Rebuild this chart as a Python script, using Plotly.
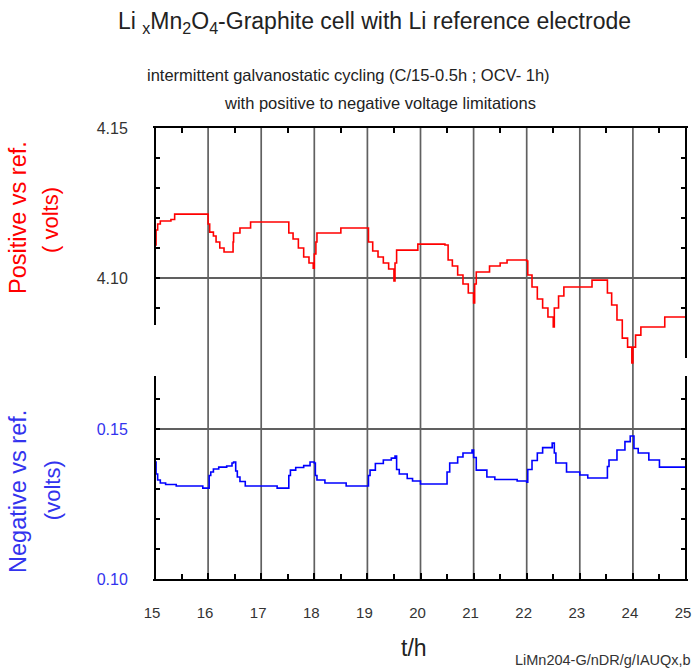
import plotly.graph_objects as go

# ---- data ----
pos_t = [15.00, 15.02, 15.05, 15.10, 15.20, 15.30, 15.37, 15.50, 15.98,
         16.00, 16.03, 16.10, 16.15, 16.22, 16.30, 16.45, 16.47, 16.48, 16.60, 16.75, 16.80, 17.00, 17.50,
         17.52, 17.60, 17.70, 17.80, 17.90, 17.98, 18.00, 18.03, 18.05, 18.40, 18.50, 19.00,
         19.02, 19.10, 19.20, 19.30, 19.40, 19.50, 19.52, 19.55, 19.90, 19.95, 20.46,
         20.52, 20.60, 20.70, 20.80, 20.90, 21.00, 21.02, 21.05, 21.30, 21.50, 21.63, 22.00,
         22.02, 22.10, 22.20, 22.30, 22.40, 22.50, 22.52, 22.60, 22.70, 23.14, 23.23, 23.50,
         23.52, 23.60, 23.70, 23.80, 23.90, 23.98, 24.00, 24.05, 24.15, 24.55, 24.60, 25.00, 25.02]
pos_v = [4.1110, 4.1160, 4.1180, 4.1190, 4.1190, 4.1195, 4.1213, 4.1213, 4.1213,
         4.1180, 4.1153, 4.1140, 4.1120, 4.1100, 4.1087, 4.1087, 4.1120, 4.1150, 4.1167, 4.1167, 4.1187, 4.1187, 4.1187,
         4.1150, 4.1130, 4.1100, 4.1070, 4.1050, 4.1033, 4.1080, 4.1120, 4.1150, 4.1150, 4.1167, 4.1167,
         4.1120, 4.1090, 4.1070, 4.1050, 4.1030, 4.0990, 4.1050, 4.1093, 4.1093, 4.1113, 4.1110,
         4.1060, 4.1040, 4.1010, 4.0980, 4.0950, 4.0917, 4.0980, 4.1020, 4.1040, 4.1050, 4.1060, 4.1057,
         4.1010, 4.0970, 4.0930, 4.0900, 4.0870, 4.0837, 4.0900, 4.0940, 4.0970, 4.0970, 4.0993, 4.0993,
         4.0950, 4.0910, 4.0860, 4.0800, 4.0770, 4.0717, 4.0770, 4.0810, 4.0837, 4.0837, 4.0870, 4.0870, 4.0837]

neg_t = [15.00, 15.02, 15.05, 15.10, 15.20, 15.40, 15.70, 15.90, 16.00,
         16.02, 16.05, 16.10, 16.20, 16.35, 16.45, 16.48, 16.52, 16.55, 16.60, 16.70, 17.20, 17.30, 17.50,
         17.52, 17.55, 17.65, 17.80, 17.92, 18.00, 18.02, 18.05, 18.20, 18.50, 18.60, 19.00,
         19.02, 19.05, 19.15, 19.30, 19.45, 19.52, 19.55, 19.60, 19.75, 19.85, 20.00, 20.46,
         20.50, 20.55, 20.70, 20.80, 20.97, 21.00, 21.05, 21.25, 21.40, 21.82, 22.00,
         22.02, 22.10, 22.20, 22.30, 22.48, 22.52, 22.55, 22.75, 23.00, 23.15, 23.50,
         23.52, 23.55, 23.70, 23.85, 23.95, 24.02, 24.10, 24.30, 24.50, 24.65, 25.00, 25.02]
neg_v = [0.1390, 0.1350, 0.1330, 0.1320, 0.1315, 0.1310, 0.1310, 0.1303, 0.1303,
         0.1345, 0.1357, 0.1367, 0.1373, 0.1377, 0.1387, 0.1390, 0.1360, 0.1340, 0.1325, 0.1310, 0.1310, 0.1303, 0.1303,
         0.1345, 0.1363, 0.1372, 0.1378, 0.1390, 0.1387, 0.1345, 0.1330, 0.1320, 0.1320, 0.1310, 0.1310,
         0.1345, 0.1363, 0.1385, 0.1397, 0.1403, 0.1410, 0.1365, 0.1350, 0.1335, 0.1327, 0.1317, 0.1317,
         0.1357, 0.1387, 0.1407, 0.1420, 0.1430, 0.1405, 0.1363, 0.1340, 0.1332, 0.1327, 0.1323,
         0.1365, 0.1395, 0.1420, 0.1438, 0.1453, 0.1420, 0.1387, 0.1357, 0.1347, 0.1337, 0.1337,
         0.1375, 0.1397, 0.1430, 0.1458, 0.1477, 0.1435, 0.1420, 0.1397, 0.1373, 0.1373, 0.1373, 0.1363]

hour_ticks = [15, 16, 17, 18, 19, 20, 21, 22, 23, 24, 25]
hour_labels = ["15", "16", "17", "18", "19", "20", "21", "22", "23", "24", "25"]
half_ticks = [15.5, 16.5, 17.5, 18.5, 19.5, 20.5, 21.5, 22.5, 23.5, 24.5]
pos_ticks = [4.09, 4.10, 4.11, 4.12, 4.13, 4.14, 4.15]
pos_labels = ["", "4.10", "", "", "", "", "4.15"]
pos_grid = [4.10]
neg_ticks = [0.10, 0.11, 0.12, 0.13, 0.14, 0.15, 0.16]
neg_labels = ["0.10", "", "", "", "", "0.15", ""]
neg_grid = [0.15]

RED = "#ff0000"
BLUE = "#0000ff"
BLUE_TXT = "#3333ee"
GRID = "#606060"
FONT = "Liberation Sans"
CLEAR = "rgba(0,0,0,0)"

fig = go.Figure()
fig.add_trace(go.Scatter(x=pos_t, y=pos_v, xaxis="x2", yaxis="y", mode="lines",
                         line=dict(color=RED, width=1.6, shape="hv"), showlegend=False))
fig.add_trace(go.Scatter(x=neg_t, y=neg_v, xaxis="x", yaxis="y2", mode="lines",
                         line=dict(color=BLUE, width=1.6, shape="hv"), showlegend=False))

xrange = [15, 25]
common_x = dict(range=xrange, showgrid=False, zeroline=False, showline=True,
                linecolor="black", linewidth=2, domain=[0, 1], automargin=False)
fig.update_layout(
    width=693, height=671,
    margin=dict(l=155, r=7, t=128, b=92, autoexpand=False),
    paper_bgcolor="white", plot_bgcolor="white",
    font=dict(family=FONT, color="#333333"),
    xaxis=dict(**common_x, anchor="y2", side="bottom",
               tickmode="array", tickvals=hour_ticks, ticktext=hour_labels,
               ticks="inside", ticklen=6, tickwidth=1.5, tickcolor="black",
               tickfont=dict(size=15, color="#333333"), ticklabelstandoff=19,
               ticklabelshift=-3, ticklabeloverflow="allow",
               minor=dict(tickmode="array", tickvals=half_ticks, ticks="inside",
                          ticklen=5, tickwidth=1.5, tickcolor="black", showgrid=False)),
    xaxis2=dict(**common_x, anchor="y", side="top", showticklabels=False,
                tickmode="array", tickvals=hour_ticks, ticks="",
                minor=dict(tickmode="array", tickvals=half_ticks, ticks="inside",
                           ticklen=5, tickwidth=1.5, tickcolor="black", showgrid=False)),
    yaxis=dict(domain=[0.4723, 1], range=[4.0707, 4.15], anchor="x2", automargin=False,
               showline=True, linecolor=CLEAR, linewidth=2, mirror="ticks",
               zeroline=False, showgrid=False,
               tickmode="array", tickvals=pos_ticks, ticktext=pos_labels,
               ticks="inside", ticklen=5, tickwidth=2, tickcolor="black",
               tickfont=dict(size=16, color="#333333"), ticklabelstandoff=22,
               minor=dict(tickmode="array", tickvals=pos_grid, ticks="",
                          showgrid=True, gridcolor=GRID, gridwidth=1.6)),
    yaxis2=dict(domain=[0, 0.4501], range=[0.10, 0.1677], anchor="x", automargin=False,
                showline=True, linecolor=CLEAR, linewidth=2, mirror="ticks",
                zeroline=False, showgrid=False,
                tickmode="array", tickvals=neg_ticks, ticktext=neg_labels,
                ticks="inside", ticklen=5, tickwidth=2, tickcolor="black",
                tickfont=dict(size=16, color=BLUE_TXT), ticklabelstandoff=22,
                minor=dict(tickmode="array", tickvals=neg_grid, ticks="",
                           showgrid=True, gridcolor=GRID, gridwidth=1.6)),
)

shapes = []
# full-height vertical grid lines at the inner hour ticks
for h in hour_ticks[1:-1]:
    shapes.append(dict(type="line", xref="x", yref="paper", x0=h, x1=h, y0=0, y1=1,
                       line=dict(color=GRID, width=1.7), layer="below"))
# axis spines of both panels
spine = dict(color="black", width=2)
shapes.append(dict(type="line", xref="paper", yref="paper", x0=0, x1=0, y0=0.563, y1=1, line=spine))
shapes.append(dict(type="line", xref="paper", yref="paper", x0=1, x1=1, y0=0.490, y1=1, line=spine))
shapes.append(dict(type="line", xref="paper", yref="paper", x0=0, x1=0, y0=0, y1=0.4501, line=spine))
shapes.append(dict(type="line", xref="paper", yref="paper", x0=1, x1=1, y0=0, y1=0.4501, line=spine))
fig.update_layout(shapes=shapes)

ann = []
ann.append(dict(text="Li <sub>x</sub>Mn<sub>2</sub>O<sub>4</sub>-Graphite cell with Li reference electrode",
                xref="paper", yref="paper", x=0.4143, y=1.235, xanchor="center", yanchor="middle",
                showarrow=False, font=dict(size=23, color="#222222")))
ann.append(dict(text="intermittent galvanostatic cycling (C/15-0.5h ; OCV- 1h)",
                xref="paper", yref="paper", x=0.365, y=1.1175, xanchor="center", yanchor="middle",
                showarrow=False, font=dict(size=16.5, color="#222222")))
ann.append(dict(text="with positive to negative voltage limitations",
                xref="paper", yref="paper", x=0.4237, y=1.0554, xanchor="center", yanchor="middle",
                showarrow=False, font=dict(size=16.5, color="#222222")))
ann.append(dict(text="Positive vs ref.", xref="paper", yref="paper", x=-0.258, y=0.8004,
                xanchor="center", yanchor="middle", textangle=-90, showarrow=False,
                font=dict(size=23.5, color=RED)))
ann.append(dict(text="( volts)", xref="paper", yref="paper", x=-0.1977, y=0.796,
                xanchor="center", yanchor="middle", textangle=-90, showarrow=False,
                font=dict(size=22, color=RED)))
ann.append(dict(text="Negative vs ref.", xref="paper", yref="paper", x=-0.258, y=0.193,
                xanchor="center", yanchor="middle", textangle=-90, showarrow=False,
                font=dict(size=23.5, color=BLUE_TXT)))
ann.append(dict(text="(volts)", xref="paper", yref="paper", x=-0.194, y=0.197,
                xanchor="center", yanchor="middle", textangle=-90, showarrow=False,
                font=dict(size=22, color=BLUE_TXT)))
ann.append(dict(text="t/h", xref="paper", yref="paper", x=0.4878, y=-0.153,
                xanchor="center", yanchor="middle", showarrow=False,
                font=dict(size=23, color="#222222")))
ann.append(dict(text="LiMn204-G/nDR/g/IAUQx,b", xref="paper", yref="paper", x=1.0132, y=-0.1796,
                xanchor="right", yanchor="middle", showarrow=False,
                font=dict(size=14.5, color="#333333")))
fig.update_layout(annotations=ann)

fig.write_html("out.html")
